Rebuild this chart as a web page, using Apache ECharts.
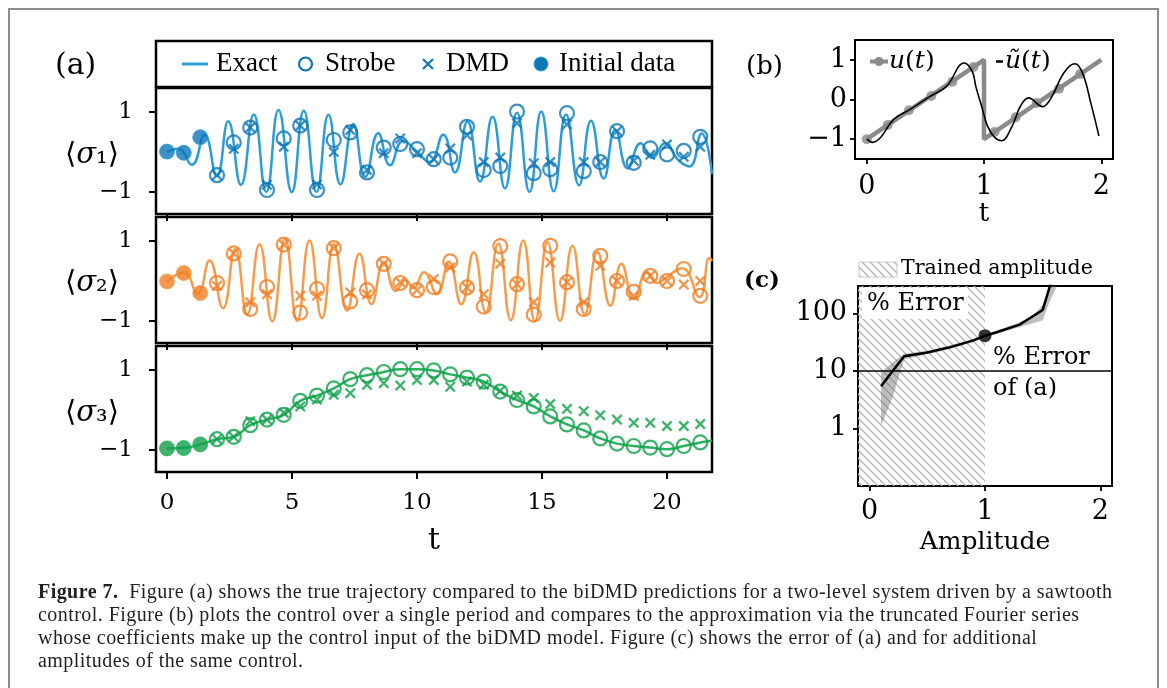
<!DOCTYPE html>
<html>
<head>
<meta charset="utf-8">
<script src="https://cdn.jsdelivr.net/npm/echarts@6/dist/echarts.min.js"></script>
<style>
html, body { margin: 0; padding: 0; background: #fff; }
#chart { position: absolute; left: 0; top: 0; width: 1167px; height: 688px; }
#caption {
    position: absolute; left: 38px; top: 580px;
    font-family: 'Liberation Serif', serif; font-size: 20px; line-height: 23px; letter-spacing: 0.45px;
    color: #231f20; white-space: nowrap;
}
</style>
</head>
<body>
<div id="chart"></div>
<div id="caption"><b>Figure 7.</b>&nbsp; Figure (a) shows the true trajectory compared to the biDMD predictions for a two-level system driven by a sawtooth<br>control. Figure (b) plots the control over a single period and compares to the approximation via the truncated Fourier series<br>whose coefficients make up the control input of the biDMD model. Figure (c) shows the error of (a) and for additional<br>amplitudes of the same control.</div>
<script>
// ---- 数据 (a) ----
// 频闪采样时刻 (前三个是初始数据)
const strobeT = [0, 0.67, 1.33, 2, 2.67, 3.33, 4, 4.67, 5.33, 6, 6.67, 7.33, 8, 8.67, 9.33, 10, 10.67,
    11.33, 12, 12.67, 13.33, 14, 14.67, 15.33, 16, 16.67, 17.33, 18, 18.67, 19.33, 20, 20.67, 21.33];

const sigma1Strobe = [0.01, -0.02, 0.37, -0.58, 0.24, 0.61, -0.95, 0.34, 0.66, -0.95, 0.30, 0.49, -0.51, 0.11, 0.2, 0.07, -0.18,
    -0.14, 0.63, -0.45, -0.35, 1.01, -0.53, -0.43, 0.97, -0.48, -0.25, 0.52, -0.27, 0.09, -0.06, 0.03, 0.38];
const sigma2Strobe = [-0.01, 0.2, -0.3, -0.05, 0.69, -0.7, -0.15, 0.91, -0.79, -0.2, 0.82, -0.51, -0.23, 0.43, -0.05, -0.23, -0.15,
    0.49, -0.16, -0.64, 0.87, -0.08, -0.84, 0.88, -0.03, -0.7, 0.63, 0.0, -0.27, 0.13, 0.0, 0.3, -0.37];
const sigma3Strobe = [-0.96, -0.95, -0.86, -0.73, -0.67, -0.38, -0.24, -0.12, 0.23, 0.36, 0.54, 0.77, 0.87, 0.95, 1.02, 1.02, 0.99,
    0.89, 0.81, 0.71, 0.46, 0.25, 0.09, -0.16, -0.36, -0.51, -0.71, -0.84, -0.90, -0.94, -0.98, -0.90, -0.81];

// DMD 预测 (从第4个采样点开始)
const sigma1Dmd = [-0.58, 0.08, 0.61, -0.82, 0.13, 0.66, -0.81, 0.0, 0.55, -0.45, -0.03, 0.34, -0.03, -0.18, 0.09,
    0.42, -0.25, -0.14, 0.72, -0.28, -0.25, 0.69, -0.25, -0.25, 0.52, -0.22, -0.07, 0.19, -0.12, 0.13];
const sigma2Dmd = [-0.12, 0.69, -0.53, -0.33, 0.91, -0.37, -0.37, 0.82, -0.29, -0.34, 0.43, -0.03, -0.23, 0.05, 0.34,
    -0.16, -0.33, 0.43, -0.08, -0.53, 0.46, -0.03, -0.53, 0.38, 0.0, -0.37, 0.13, 0.0, -0.09, 0.0];
const sigma3Dmd = [-0.73, -0.67, -0.28, -0.24, -0.07, 0.09, 0.26, 0.38, 0.42, 0.63, 0.67, 0.61, 0.75, 0.75, 0.58,
    0.71, 0.63, 0.48, 0.36, 0.30, 0.15, 0.03, -0.03, -0.13, -0.24, -0.32, -0.32, -0.40, -0.40, -0.35];

// 精确轨迹 [t, 值]
const sigma1Exact = [[0, 0.0], [0.45, 0.08], [0.99, -0.32], [1.5, 0.43], [1.99, -0.6], [2.45, 0.77], [2.96, -0.82],
    [3.47, 0.94], [3.97, -1.0], [4.46, 1.05], [4.99, -1.0], [5.47, 1.03], [5.98, -1.0], [6.46, 0.93], [6.94, -0.81],
    [7.45, 0.7], [7.93, -0.62], [8.45, 0.47], [8.92, -0.33], [9.45, 0.28], [9.95, 0.04], [10.5, -0.25], [11.05, 0.43],
    [11.52, -0.51], [12.02, 0.76], [12.52, -0.74], [13.02, 0.88], [13.52, -0.91], [14.0, 0.98], [14.5, -1.0],
    [14.97, 1.01], [15.47, -0.98], [15.96, 0.94], [16.48, -0.83], [16.96, 0.78], [17.47, -0.66], [17.93, 0.55],
    [18.43, -0.41], [18.95, 0.22], [19.4, -0.15], [19.92, 0.22], [20.45, -0.2], [20.9, -0.36], [21.38, 0.46], [21.8, -0.55]];
const sigma2Exact = [[0, -0.01], [0.68, 0.21], [1.22, -0.32], [1.7, 0.51], [2.24, -0.68], [2.73, 0.8], [3.21, -0.83],
    [3.7, 0.92], [4.21, -1.01], [4.72, 1.05], [5.21, -1.0], [5.7, 1.01], [6.2, -0.93], [6.68, 0.92], [7.2, -0.74],
    [7.7, 0.69], [8.18, -0.58], [8.68, 0.47], [9.15, -0.25], [9.55, 0.02], [9.85, -0.18], [10.28, 0.22], [10.8, -0.33],
    [11.27, 0.48], [11.77, -0.58], [12.27, 0.72], [12.75, -0.78], [13.25, 0.94], [13.75, -0.98], [14.25, 1.01],
    [14.72, -1.0], [15.22, 0.97], [15.72, -1.0], [16.22, 0.88], [16.71, -0.83], [17.22, 0.72], [17.74, -0.62],
    [18.18, 0.43], [18.68, -0.45], [19.2, 0.22], [19.6, -0.05], [19.95, 0.08], [20.6, 0.32], [21.3, -0.4], [21.7, 0.58], [21.8, 0.5]];
const sigma3Exact = [[0, -0.96], [0.67, -0.95], [1.33, -0.86], [2, -0.73], [2.67, -0.67], [3.33, -0.38], [4, -0.24],
    [4.67, -0.12], [5.33, 0.23], [6, 0.36], [6.67, 0.54], [7.33, 0.77], [8, 0.87], [8.67, 0.95], [9.33, 1.02], [10, 1.02],
    [10.67, 0.99], [11.33, 0.89], [12, 0.81], [12.67, 0.71], [13.33, 0.46], [14, 0.25], [14.67, 0.09], [15.33, -0.16],
    [16, -0.36], [16.67, -0.51], [17.33, -0.71], [18, -0.84], [18.67, -0.9], [19.33, -0.94], [20, -0.98], [20.67, -0.9],
    [21.33, -0.81], [21.8, -0.76]];

const tTicks = [0, 5, 10, 15, 20];
const sigmaTicks = [-1, 1];

// ---- 数据 (b) ----
const uT = [0, 1, 1, 2];
const uV = [-1, 1, -1, 1];
const uSampleT = [0, 0.18, 0.36, 0.55, 0.73, 0.91, 1.09, 1.27, 1.45, 1.64, 1.82];
const uSampleV = [-1, -0.64, -0.27, 0.09, 0.45, 0.82, -0.82, -0.45, -0.09, 0.27, 0.64];
const uTildeT = [0, 0.05, 0.12, 0.23, 0.37, 0.54, 0.68, 0.83, 0.9, 0.93, 0.98, 1.03, 1.09, 1.15, 1.24, 1.31, 1.38,
    1.5, 1.58, 1.68, 1.775, 1.84, 1.91, 1.98];
const uTildeV = [-1.0, -1.08, -0.95, -0.5, -0.25, 0.08, 0.33, 0.92, 0.71, 0.33, -0.17, -0.67, -0.95, -1.04, -0.67,
    -0.17, 0.04, -0.18, 0.08, 0.67, 0.9, 0.67, -0.08, -0.92];
const bTicksX = [0, 1, 2];
const bTicksY = [-1, 0, 1];

// ---- 数据 (c) ----
const ampT = [0.1, 0.2, 0.3, 0.5, 0.7, 0.9, 1.0, 1.1, 1.3, 1.5, 1.7];
const errMean = [5.4, 10, 18, 21, 26, 34, 41, 47, 64, 115, 2500];
const bandT = [0.1, 0.2, 0.3, 0.5, 0.7, 0.9, 1.0, 1.1, 1.3, 1.4, 1.5, 1.56, 1.62];
const bandLow = [1.1, 3.5, 16, 19.5, 24, 32, 39, 44, 58, 66, 76, 160, 290];
const bandHigh = [9.5, 14, 20, 22.5, 28, 36, 43, 50, 70, 85, 140, 290, 300];
const trainedSpan = [-0.1, 1.0];
const errRef = 10;          // (a) 的误差
const errOfA = [1.0, 41];   // 黑点
const cTicksX = [0, 1, 2];
const cTicksY = [1, 10, 100];

// ---- 样式 ----
const lineColors = ['#2b9ed6', '#f59d4d', '#2bb25f'];
const markColors = ['#0c76b6', '#f07d22', '#0f9f4a'];
const serif = '"DejaVu Serif", serif';
const crossPath = 'path://M1.5,0 L5,3.5 L8.5,0 L10,1.5 L6.5,5 L10,8.5 L8.5,10 L5,6.5 L1.5,10 L0,8.5 L3.5,5 L0,1.5 Z';

function pairs(ts, vs) {
    return vs.map((v, i) => [ts[i], v]);
}
function minusFmt(v) {
    return v < 0 ? '\u2212' + Math.abs(v) : String(v);
}

// 斜线填充
function hatchCanvas() {
    const c = document.createElement('canvas');
    c.width = 8; c.height = 8;
    const g = c.getContext('2d');
    g.strokeStyle = '#b4b4b4';
    g.lineWidth = 1.3;
    g.beginPath();
    g.moveTo(-1, -1); g.lineTo(9, 9);
    g.moveTo(-1, 7); g.lineTo(1, 9);
    g.moveTo(7, -1); g.lineTo(9, 1);
    g.stroke();
    return c;
}
const hatch = { image: hatchCanvas(), repeat: 'repeat' };

const chart = echarts.init(document.getElementById('chart'));

// (a) 三个子图的位置
const aTops = [88, 217, 346];
const grids = aTops.map(top => ({
    left: 156, top: top, width: 556, height: 126,
    show: true, borderColor: '#000', borderWidth: 2.5
}));
grids.push({ left: 855, top: 40, width: 258, height: 119, show: true, borderColor: '#000', borderWidth: 2 });
grids.push({ left: 858, top: 286, width: 254, height: 200, show: true, borderColor: '#000', borderWidth: 2 });

const noLine = { show: false, onZero: false };
const xAxes = [];
const yAxes = [];
aTops.forEach((top, i) => {
    const last = i === 2;
    xAxes.push({
        gridIndex: i, type: 'value', min: -0.44, max: 21.8, position: 'bottom',
        axisLine: noLine, splitLine: { show: false },
        axisTick: { show: true, customValues: tTicks, length: 7, lineStyle: { color: '#000', width: 2 } },
        axisLabel: { show: last, customValues: tTicks, margin: 20, fontFamily: serif, fontSize: 23, color: '#000' },
        name: last ? 't' : '', nameLocation: 'middle', nameGap: 54,
        nameTextStyle: { fontFamily: serif, fontSize: 30, color: '#000' }
    });
    yAxes.push({
        gridIndex: i, type: 'value', min: -1.55, max: 1.6, position: 'left',
        axisLine: noLine, splitLine: { show: false },
        axisTick: { show: true, customValues: sigmaTicks, length: 7, lineStyle: { color: '#000', width: 2 } },
        axisLabel: { customValues: sigmaTicks, margin: 23, formatter: minusFmt, fontFamily: serif, fontSize: 23, color: '#000' }
    });
});
xAxes.push({
    gridIndex: 3, type: 'value', min: -0.1, max: 2.1, position: 'bottom',
    axisLine: noLine, splitLine: { show: false },
    axisTick: { customValues: bTicksX, length: 5, lineStyle: { color: '#000', width: 1.8 } },
    axisLabel: { customValues: bTicksX, margin: 14, fontFamily: serif, fontSize: 27, color: '#000' },
    name: 't', nameLocation: 'middle', nameGap: 36,
    nameTextStyle: { fontFamily: serif, fontSize: 26, color: '#000' }
});
yAxes.push({
    gridIndex: 3, type: 'value', min: -1.5, max: 1.5, position: 'left',
    axisLine: noLine, splitLine: { show: false },
    axisTick: { customValues: bTicksY, length: 5, lineStyle: { color: '#000', width: 1.8 } },
    axisLabel: { customValues: bTicksY, margin: 8, formatter: minusFmt, fontFamily: serif, fontSize: 27, color: '#000' }
});
xAxes.push({
    gridIndex: 4, type: 'value', min: -0.1, max: 2.1, position: 'bottom',
    axisLine: noLine, splitLine: { show: false },
    axisTick: { customValues: cTicksX, length: 5, lineStyle: { color: '#000', width: 1.8 } },
    axisLabel: { customValues: cTicksX, margin: 12, fontFamily: serif, fontSize: 27, color: '#000' },
    name: 'Amplitude', nameLocation: 'middle', nameGap: 44,
    nameTextStyle: { fontFamily: serif, fontSize: 25, color: '#000' }
});
yAxes.push({
    gridIndex: 4, type: 'log', logBase: 10, min: 0.1, max: 300, position: 'left',
    axisLine: noLine, splitLine: { show: false }, minorTick: { show: false },
    axisTick: { customValues: cTicksY, length: 5, lineStyle: { color: '#000', width: 1.8 } },
    axisLabel: { customValues: cTicksY, margin: 11, fontFamily: serif, fontSize: 27, color: '#000' }
});

const exact = [sigma1Exact, sigma2Exact, sigma3Exact];
const strobe = [sigma1Strobe, sigma2Strobe, sigma3Strobe];
const dmd = [sigma1Dmd, sigma2Dmd, sigma3Dmd];

const series = [];
[0, 1, 2].forEach(i => {
    series.push({
        type: 'line', xAxisIndex: i, yAxisIndex: i, data: exact[i], smooth: 0.5, symbol: 'none',
        lineStyle: { color: lineColors[i], width: 2.5 }, z: 2
    });
    series.push({
        type: 'scatter', xAxisIndex: i, yAxisIndex: i,
        data: pairs(strobeT.slice(3), strobe[i].slice(3)), symbol: 'circle', symbolSize: 14,
        itemStyle: { color: 'rgba(255,255,255,0)', borderColor: markColors[i], borderWidth: 2.2 }, z: 3
    });
    series.push({
        type: 'scatter', xAxisIndex: i, yAxisIndex: i,
        data: pairs(strobeT.slice(3), dmd[i]), symbol: crossPath, symbolSize: 11,
        itemStyle: { color: markColors[i] }, z: 4
    });
    series.push({
        type: 'scatter', xAxisIndex: i, yAxisIndex: i,
        data: pairs(strobeT.slice(0, 3), strobe[i].slice(0, 3)), symbol: 'circle', symbolSize: 15,
        itemStyle: { color: markColors[i], borderColor: lineColors[i], borderWidth: 1 }, z: 4
    });
});

// (b)
series.push({
    type: 'line', xAxisIndex: 3, yAxisIndex: 3, data: pairs(uT, uV), symbol: 'none',
    lineStyle: { color: '#8a8a8a', width: 4.5 }, z: 2
});
series.push({
    type: 'scatter', xAxisIndex: 3, yAxisIndex: 3, data: pairs(uSampleT, uSampleV), symbolSize: 10,
    itemStyle: { color: '#8a8a8a' }, z: 3
});
series.push({
    type: 'line', xAxisIndex: 3, yAxisIndex: 3, data: pairs(uTildeT, uTildeV), smooth: 0.4, symbol: 'none',
    lineStyle: { color: '#000', width: 1.6 }, z: 4
});

// (c)
series.push({
    type: 'custom', xAxisIndex: 4, yAxisIndex: 4, data: [[trainedSpan[0], 1]], z: 1, silent: true,
    renderItem: function (params, api) {
        const cs = params.coordSys;
        const x0 = api.coord([trainedSpan[0], 1])[0];
        const x1 = api.coord([trainedSpan[1], 1])[0];
        return {
            type: 'rect',
            shape: { x: Math.max(x0, cs.x), y: cs.y, width: x1 - Math.max(x0, cs.x), height: cs.height },
            style: { fill: hatch }
        };
    }
});
series.push({
    type: 'custom', xAxisIndex: 4, yAxisIndex: 4, data: [[1, 10]], z: 2, silent: true,
    renderItem: function (params, api) {
        const up = bandT.map((a, i) => api.coord([a, bandHigh[i]]));
        const lo = bandT.map((a, i) => api.coord([a, bandLow[i]])).reverse();
        return {
            type: 'polygon',
            shape: { points: up.concat(lo) },
            style: { fill: 'rgba(110,110,110,0.45)' }
        };
    }
});
series.push({
    type: 'line', xAxisIndex: 4, yAxisIndex: 4, data: pairs(ampT, errMean), symbol: 'none',
    lineStyle: { color: '#000', width: 2.5 }, z: 3,
    markLine: {
        silent: true, symbol: 'none', label: { show: false },
        lineStyle: { color: '#000', width: 1.6, type: 'solid' },
        data: [{ yAxis: errRef }]
    }
});
series.push({
    type: 'scatter', xAxisIndex: 4, yAxisIndex: 4, data: [errOfA], symbolSize: 13,
    itemStyle: { color: '#000' }, z: 4
});

function label(x, y, text, font, extra) {
    return {
        type: 'text', x: x, y: y, z: 50,
        style: Object.assign({ text: text, font: font, fill: '#000', align: 'left', verticalAlign: 'middle',
            textAlign: 'left', textVerticalAlign: 'middle' }, extra || {})
    };
}

const sigmaRich = {
    b: { fontFamily: '"DejaVu Serif","DejaVu Sans"', fontSize: 29, color: '#000' },
    s: { fontFamily: serif, fontStyle: 'italic', fontSize: 29, color: '#000' }
};
const legendFont = '27px "Liberation Serif"';
const mathRich = {
    i: { fontFamily: serif, fontStyle: 'italic', fontSize: 25, color: '#000' },
    r: { fontFamily: serif, fontSize: 25, color: '#000' }
};

const graphic = [
    // 外框
    { type: 'rect', z: 0, silent: true, shape: { x: 9, y: 9, width: 1149, height: 720 },
      style: { fill: 'none', stroke: '#8c8c8c', lineWidth: 2 } },
    // (a) 图例
    { type: 'rect', z: 40, shape: { x: 156, y: 41, width: 556, height: 46 },
      style: { fill: '#fff', stroke: '#000', lineWidth: 2.5 } },
    { type: 'line', z: 41, shape: { x1: 182, y1: 64, x2: 208, y2: 64 }, style: { stroke: lineColors[0], lineWidth: 3 } },
    label(216, 64, 'Exact', legendFont),
    { type: 'circle', z: 41, shape: { cx: 305.5, cy: 64, r: 6.5 }, style: { fill: 'none', stroke: markColors[0], lineWidth: 2.2 } },
    label(325, 64, 'Strobe', legendFont),
    { type: 'line', z: 41, shape: { x1: 423, y1: 59, x2: 433, y2: 69 }, style: { stroke: markColors[0], lineWidth: 2.2 } },
    { type: 'line', z: 41, shape: { x1: 433, y1: 59, x2: 423, y2: 69 }, style: { stroke: markColors[0], lineWidth: 2.2 } },
    label(446, 64, 'DMD', legendFont),
    { type: 'circle', z: 41, shape: { cx: 541, cy: 64, r: 7 }, style: { fill: markColors[0], stroke: lineColors[0], lineWidth: 1 } },
    label(559, 64, 'Initial data', legendFont),
    label(55, 66, '(a)', '30px ' + serif),
    // y 轴标签
    label(92, 155, '{b|⟨}{s|σ}{b|₁⟩}', '29px ' + serif, { rich: sigmaRich, align: 'center', textAlign: 'center' }),
    label(92, 283, '{b|⟨}{s|σ}{b|₂⟩}', '29px ' + serif, { rich: sigmaRich, align: 'center', textAlign: 'center' }),
    label(92, 413, '{b|⟨}{s|σ}{b|₃⟩}', '29px ' + serif, { rich: sigmaRich, align: 'center', textAlign: 'center' }),
    // (b)
    label(746, 67, '(b)', '26px ' + serif),
    { type: 'line', z: 41, shape: { x1: 870, y1: 61.5, x2: 888, y2: 61.5 }, style: { stroke: '#8a8a8a', lineWidth: 4 } },
    { type: 'circle', z: 42, shape: { cx: 879, cy: 61.5, r: 4.5 }, style: { fill: '#8a8a8a' } },
    label(889, 61, '{i|u}{r|(}{i|t}{r|)}', '25px ' + serif, { rich: mathRich }),
    { type: 'line', z: 41, shape: { x1: 996, y1: 61.5, x2: 1003, y2: 61.5 }, style: { stroke: '#000', lineWidth: 2.5 } },
    label(1005, 61, '{i|ũ}{r|(}{i|t}{r|)}', '25px ' + serif, { rich: mathRich }),
    // (c)
    label(744, 281, '(c)', 'bold 23px ' + serif),
    { type: 'rect', z: 41, shape: { x: 859, y: 262, width: 38, height: 15 }, style: { fill: hatch, stroke: '#c8c8c8', lineWidth: 1 } },
    label(901, 269, 'Trained amplitude', '20.5px ' + serif),
    { type: 'rect', z: 40, shape: { x: 862, y: 288, width: 106, height: 31 }, style: { fill: '#fff' } },
    label(867, 304, '% Error', '24px ' + serif),
    label(993, 358, '% Error', '24px ' + serif),
    label(993, 389, 'of (a)', '24px ' + serif)
];

chart.setOption({
    animation: false,
    backgroundColor: '#fff',
    grid: grids,
    xAxis: xAxes,
    yAxis: yAxes,
    series: series,
    graphic: graphic
});
</script>
</body>
</html>
